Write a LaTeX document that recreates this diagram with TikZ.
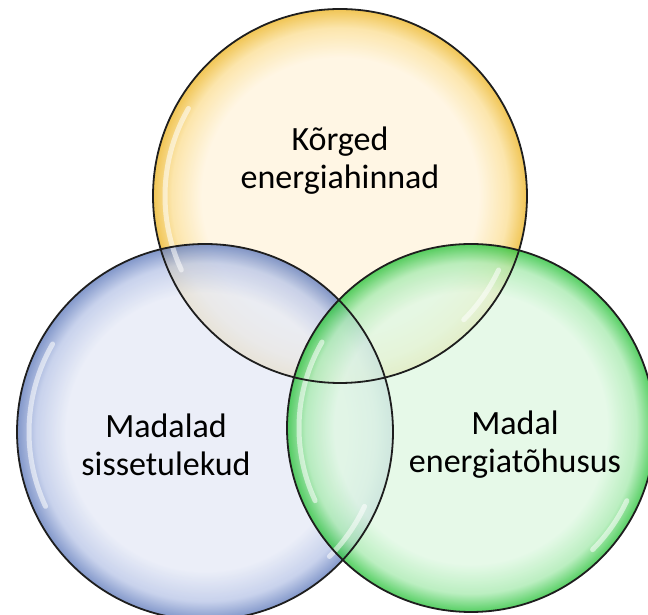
\documentclass[tikz,border=0pt]{standalone}
\usepackage{fontspec}
\setmainfont{Carlito}

\definecolor{yfill}{HTML}{FFF4DE}
\definecolor{ymid}{HTML}{FBE09A}
\definecolor{yrim}{HTML}{EDB82E}
\definecolor{bfill}{HTML}{E6EAF6}
\definecolor{bmid}{HTML}{BCC8E8}
\definecolor{brim}{HTML}{6680BE}
\definecolor{gfill}{HTML}{E0F8E3}
\definecolor{gmid}{HTML}{ACEBB3}
\definecolor{grim}{HTML}{30C440}
\definecolor{rimline}{HTML}{1E1E1E}

\pgfdeclareradialshading{bubbleyellow}{\pgfpoint{0bp}{0bp}}{color(0bp)=(yfill); color(18.5bp)=(yfill); color(22.5bp)=(ymid); color(25bp)=(yrim); color(50bp)=(yrim)}
\pgfdeclareradialshading{bubbleblue}{\pgfpoint{0bp}{0bp}}{color(0bp)=(bfill); color(18.5bp)=(bfill); color(22.5bp)=(bmid); color(25bp)=(brim); color(50bp)=(brim)}
\pgfdeclareradialshading{bubblegreen}{\pgfpoint{0bp}{0bp}}{color(0bp)=(gfill); color(18.5bp)=(gfill); color(22.5bp)=(gmid); color(25bp)=(grim); color(50bp)=(grim)}

\begin{document}
\begin{tikzpicture}[x=1pt,y=1pt,
  bubble/.style={circle,inner sep=0pt,shade,fill opacity=0.82},
  rim/.style={draw=rimline,line width=1.8pt},
  glint/.style={white,line width=5pt,opacity=0.55,line cap=round},
  caption/.style={align=center,font=\fontsize{34}{38}\selectfont,text=black}]
  \useasboundingbox (0,0) rectangle (648,615);
  \clip (0,0) rectangle (648,615);

  \node[bubble,shading=bubbleyellow,minimum size=374pt] (prices) at (340,419) {};
  \node[bubble,shading=bubbleblue,minimum size=376pt] (income) at (205,183) {};
  \node[bubble,shading=bubblegreen,minimum size=368pt] (efficiency) at (471,187) {};

  % glass highlights
  \draw[glint] ([shift={(150:175)}]prices.center) arc[start angle=150,end angle=205,radius=175];
  \draw[glint] ([shift={(-25:175)}]prices.center) arc[start angle=-25,end angle=-45,radius=175];
  \draw[glint] ([shift={(150:176)}]income.center) arc[start angle=150,end angle=205,radius=176];
  \draw[glint] ([shift={(-25:176)}]income.center) arc[start angle=-25,end angle=-45,radius=176];
  \draw[glint] ([shift={(150:172)}]efficiency.center) arc[start angle=150,end angle=205,radius=172];
  \draw[glint] ([shift={(-25:172)}]efficiency.center) arc[start angle=-25,end angle=-45,radius=172];

  % outlines on top
  \foreach \n/\r in {prices/187,income/188,efficiency/184}
    \draw[rim] (\n.center) circle[radius=\r];

  \node[caption] (prices text) at (340,454) {Kõrged\\energiahinnad};
  \node[caption] (income text) at (166,170) {Madalad\\sissetulekud};
  \node[caption] (efficiency text) at (515,170) {Madal\\energiatõhusus};
\end{tikzpicture}
\end{document}
